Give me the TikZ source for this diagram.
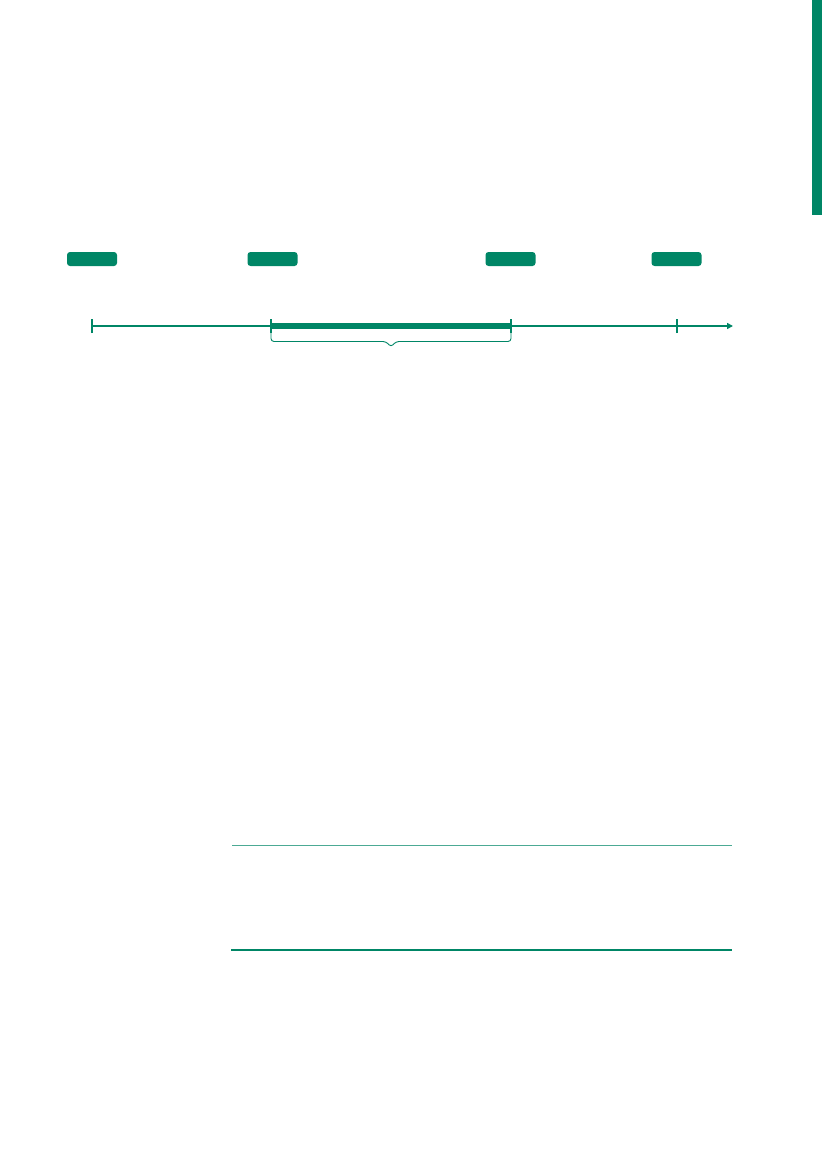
\documentclass[tikz,border=0pt]{standalone}
\usetikzlibrary{arrows.meta}
\definecolor{tlgreen}{RGB}{0,134,102}
\begin{document}
\begin{tikzpicture}[x=1pt,y=-1pt,
  pill/.style={fill=tlgreen,draw=none,rounded corners=3pt,minimum width=50pt,minimum height=14pt,inner sep=0pt},
  axis/.style={draw=tlgreen,line width=1.6pt},
  tick/.style={draw=tlgreen,line width=1.6pt},
  span/.style={draw=tlgreen,line width=5.5pt},
  bracket/.style={draw=tlgreen,line width=0.9pt,rounded corners=3pt},
  rule/.style={draw=tlgreen,line width=0.8pt}]
\useasboundingbox (0,0) rectangle (827,1169);
% right edge bar
\fill[tlgreen] (812,0) rectangle (822,215);
% pills
\node[pill] (p1) at (92,259) {};
\node[pill] (p2) at (272.5,259) {};
\node[pill] (p3) at (510.5,259) {};
\node[pill] (p4) at (676.5,259) {};
% timeline
\coordinate (t0) at (92,326);
\coordinate (t1) at (271,326);
\coordinate (t2) at (511,326);
\coordinate (t3) at (677,326);
\coordinate (tend) at (733,326);
\draw[axis,-{Triangle[length=6pt,width=6pt]}] (t0) -- (tend);
\draw[span] (t1) -- (t2);
\foreach \t in {t0,t1,t2,t3}{
  \draw[tick] ([yshift=-7pt]\t) -- ([yshift=7pt]\t);
}
% bracket
\coordinate (b1) at (271,333);
\coordinate (b2) at (511,333);
\coordinate (bm) at (391,347);
\draw[bracket] (b1) -- (271,341.5) -- (386,341.5) -- (bm) -- (396,341.5) -- (511,341.5) -- (b2);
% rules
\coordinate (r1a) at (232,845);
\coordinate (r1b) at (732,845);
\coordinate (r2a) at (231,950);
\coordinate (r2b) at (732,950);
\draw[rule,line width=0.7pt,draw=tlgreen!70] (r1a) -- (r1b);
\draw[rule,line width=1.1pt] (r2a) -- (r2b);
\end{tikzpicture}
\end{document}
